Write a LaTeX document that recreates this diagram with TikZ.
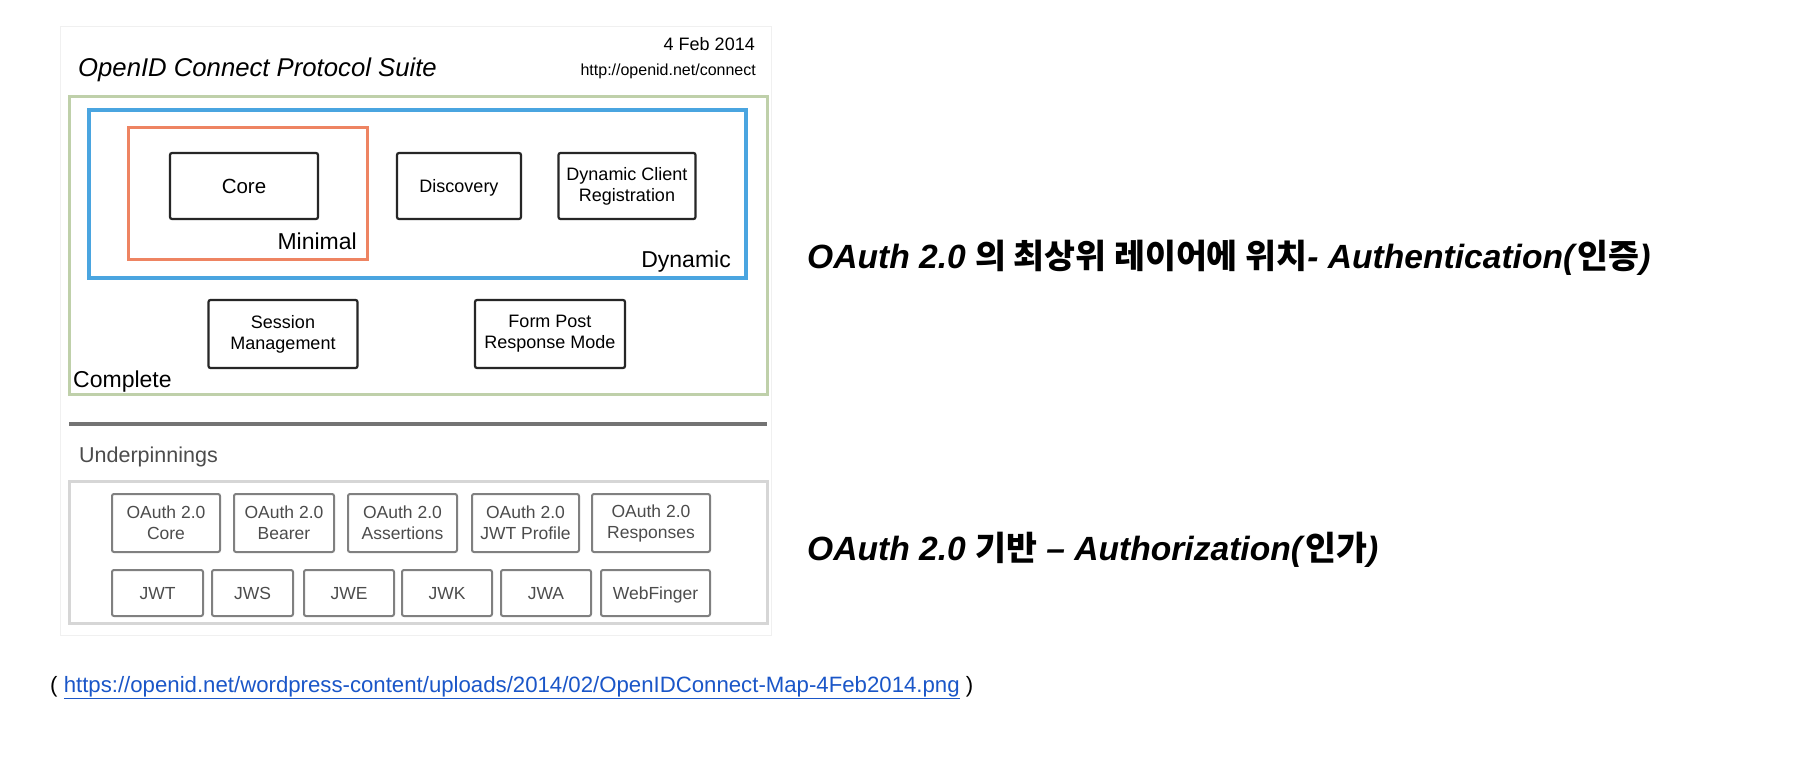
\documentclass[tikz,border=0pt]{standalone}
\usepackage{fontspec}
\setmainfont{Liberation Sans}
\newfontfamily\krfont{Noto Sans CJK KR}
\usetikzlibrary{positioning}
\definecolor{cmpgreen}{HTML}{BFD0AA}
\definecolor{dynblue}{HTML}{4AA5E0}
\definecolor{minorange}{HTML}{EE8462}
\definecolor{undgray}{HTML}{D6D6D6}
\definecolor{linkblue}{HTML}{1A56C8}
\tikzset{
mybox/.style={
  draw=black!85,
  line width=2.2pt,
  rounded corners=2pt,
  align=center,
  inner sep=0pt,
  minimum height=66pt,
  font=\fontsize{18}{21}\selectfont
  },
undbox/.style={
  draw=black!50,
  line width=2pt,
  rounded corners=2pt,
  text=black!70,
  align=center,
  inner sep=0pt,
  font=\fontsize{17.5}{21}\selectfont
  },
oneline/.style={text height=#1, text depth=0pt},
oneline/.default=13pt,
lbl/.style={inner sep=0pt, anchor=base west}
}

\begin{document}
\begin{tikzpicture}[x=1pt,y=-1pt]
\useasboundingbox (0,0) rectangle (1818,760);

% picture panel
\draw[black!6, line width=1pt, fill=white] (60,27) rectangle (771,635);

\node[lbl, font=\fontsize{25.7}{28}\selectfont\itshape] (title) at (78,77) {OpenID Connect Protocol Suite};
\node[lbl, anchor=base east, font=\fontsize{18}{20}\selectfont] (date) at (755,51) {4 Feb 2014};
\node[lbl, anchor=base east, font=\fontsize{16}{18}\selectfont] (site) at (756,75) {http://openid.net/connect};

% layers
\draw[cmpgreen, line width=3pt] (69,96) rectangle (767,394);
\draw[dynblue, line width=3.5pt] (89,110) rectangle (746,278);
\draw[minorange, line width=3pt] (128,127) rectangle (367,259);

\node[mybox, oneline=15pt, minimum width=148pt, font=\fontsize{20.5}{23}\selectfont] (core) at (244,186) {Core};
\node[mybox, oneline, minimum width=124pt] (disc) at (459,186) {Discovery};
\node[mybox, minimum width=137pt] (dcr) at (627,186) {Dynamic Client\\Registration};
\node[mybox, minimum width=149pt, minimum height=68pt] (sess) at (283,334) {Session\\Management};
\node[mybox, minimum width=150pt, minimum height=68pt] (form) at (550,334) {Form Post\\Response Mode};

\node[lbl, anchor=base east, font=\fontsize{23}{26}\selectfont] (minimal) at (357,249) {Minimal};
\node[lbl, anchor=base east, font=\fontsize{23}{26}\selectfont] (dynamic) at (731,267) {Dynamic};
\node[lbl, font=\fontsize{23}{26}\selectfont] (complete) at (73,387) {Complete};

% underpinnings
\draw[black!55, line width=4pt] (69,424) -- (767,424);
\node[lbl, text=black!70, font=\fontsize{21.5}{24}\selectfont] (under) at (79,462) {Underpinnings};
\draw[undgray, line width=3pt] (69,481) rectangle (767,623);

\node[undbox, minimum width=108pt, minimum height=58pt] (oacore) at (166,523) {OAuth 2.0\\Core};
\node[undbox, minimum width=100pt, minimum height=58pt] (oabear) at (284,523) {OAuth 2.0\\Bearer};
\node[undbox, minimum width=109pt, minimum height=58pt] (oaasrt) at (402.5,523) {OAuth 2.0\\Assertions};
\node[undbox, minimum width=107pt, minimum height=58pt] (oajwt) at (525.5,523) {OAuth 2.0\\JWT Profile};
\node[undbox, minimum width=118pt, minimum height=58pt] (oaresp) at (651,523) {OAuth 2.0\\Responses};

\node[undbox, oneline, minimum width=91pt, minimum height=46pt] (jwt) at (157.5,593) {JWT};
\node[undbox, oneline, minimum width=81pt, minimum height=46pt] (jws) at (252.5,593) {JWS};
\node[undbox, oneline, minimum width=90pt, minimum height=46pt] (jwe) at (349,593) {JWE};
\node[undbox, oneline, minimum width=90pt, minimum height=46pt] (jwk) at (447,593) {JWK};
\node[undbox, oneline, minimum width=90pt, minimum height=46pt] (jwa) at (546,593) {JWA};
\node[undbox, oneline, minimum width=109pt, minimum height=46pt] (webf) at (655.5,593) {WebFinger};

% notes on the right
\node[lbl, font=\fontsize{33.6}{36}\selectfont\bfseries] (authn) at (807,268)
  {\textit{OAuth 2.0} {\krfont 의 최상위 레이어에 위치}\textit{- Authentication(}{\krfont 인증}\textit{)}};
\node[lbl, font=\fontsize{33.6}{36}\selectfont\bfseries] (authz) at (807,560)
  {\textit{OAuth 2.0} {\krfont 기반} \textit{-- Authorization(}{\krfont 인가}\textit{)}};

\node[lbl, font=\fontsize{22.2}{24}\selectfont] (src) at (50,692)
  {( \textcolor{linkblue}{\underline{https://openid.net/wordpress-content/uploads/2014/02/OpenIDConnect-Map-4Feb2014.png}} )};

\end{tikzpicture}
\end{document}
